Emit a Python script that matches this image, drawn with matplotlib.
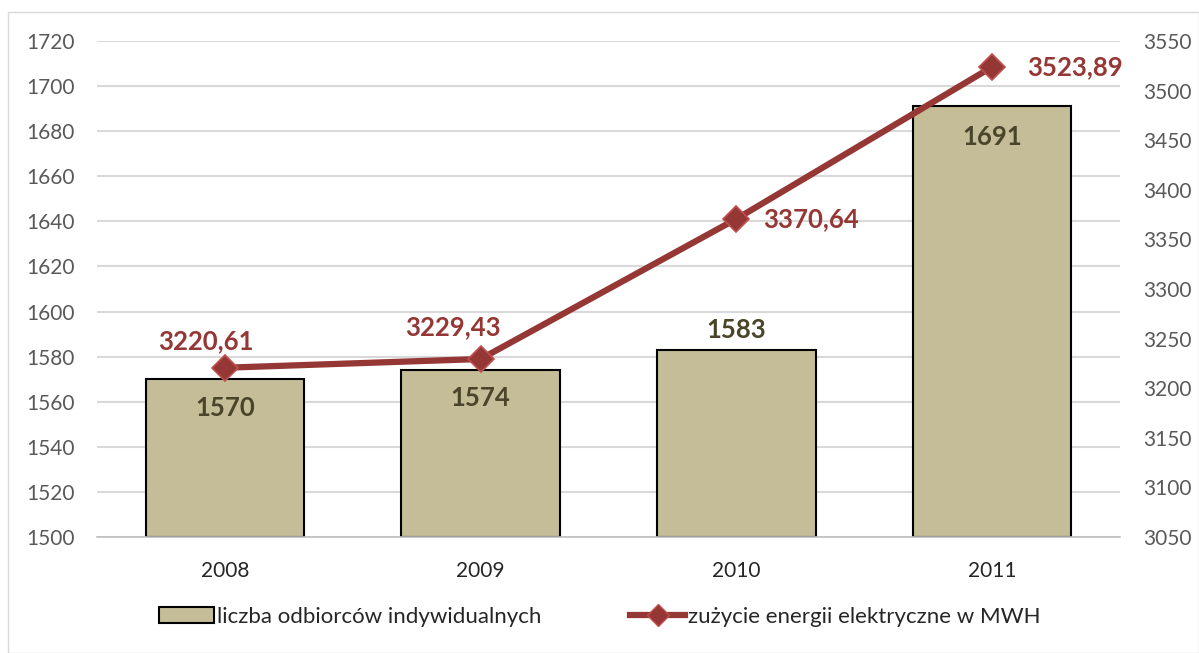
import matplotlib.pyplot as plt
from matplotlib.patches import Rectangle, Patch
from matplotlib.lines import Line2D

plt.rcParams['font.family'] = ['Lato', 'DejaVu Sans']

years = ['2008', '2009', '2010', '2011']
odbiorcy = [1570, 1574, 1583, 1691]
energia = [3220.61, 3229.43, 3370.64, 3523.89]
energia_txt = ['3220,61', '3229,43', '3370,64', '3523,89']

bar_color = '#C4BD97'
line_color = '#953735'
grid_color = '#D9D9D9'
tick_color = '#595959'

fig = plt.figure(figsize=(11.99, 6.53), dpi=100)
fig.patches.append(Rectangle((8 / 1199, 0), 1 - 8 / 1199, 1 - 12 / 653, transform=fig.transFigure,
                             fill=False, edgecolor='#D9D9D9', linewidth=1))

ax = fig.add_axes([97 / 1199, 1 - 537 / 653, (1120 - 97) / 1199, (537 - 41) / 653])
x = list(range(len(years)))
ax.bar(x, [v - 1500 for v in odbiorcy], bottom=1500, width=0.62, color=bar_color,
       edgecolor='black', linewidth=1.5, zorder=2)
ax.set_xlim(-0.5, 3.5)
ax.set_ylim(1500, 1720)
ax.set_yticks(range(1500, 1721, 20))
ax.yaxis.grid(True, color=grid_color, linewidth=1.5, zorder=0)
ax.set_axisbelow(True)
for s in ['top', 'right', 'left']:
    ax.spines[s].set_visible(False)
ax.spines['bottom'].set_color('#BFBFBF')
ax.spines['bottom'].set_linewidth(1.2)
ax.set_xticks(x)
ax.set_xticklabels(years)
ax.tick_params(axis='both', length=0, labelsize=15, labelcolor=tick_color)
ax.tick_params(axis='x', pad=17, labelcolor='#262626')
ax.tick_params(axis='y', pad=16)

# bar labels
bar_offsets = [-21, -20, 14, -22]
for i, v in enumerate(odbiorcy):
    ax.annotate(str(v), (i, v), xytext=(0, bar_offsets[i]), textcoords='offset points',
                ha='center', va='center', fontsize=18.5, fontweight='bold', color='#4A452A', zorder=5)

ax2 = ax.twinx()
ax2.set_ylim(3050, 3550)
ax2.set_yticks(range(3050, 3551, 50))
for s in ax2.spines.values():
    s.set_visible(False)
ax2.tick_params(axis='y', length=0, labelsize=15, labelcolor=tick_color, pad=17)
ax2.plot(x, energia, color=line_color, linewidth=4.5, marker='D', markersize=13,
         markerfacecolor=line_color, markeredgecolor='#C0504D', markeredgewidth=1.2, zorder=4)

line_offsets = [(-14, 19.5), (-20, 23), (54, 0), (60, 0)]
for i, v in enumerate(energia):
    dx, dy = line_offsets[i]
    ax2.annotate(energia_txt[i], (i, v), xytext=(dx, dy), textcoords='offset points',
                 ha='center', va='center', fontsize=18.5, fontweight='bold', color=line_color)

handles = [Patch(facecolor=bar_color, edgecolor='black', linewidth=1.5),
           Line2D([], [], color=line_color, linewidth=4.5, marker='D', markersize=11,
                  markerfacecolor=line_color, markeredgecolor='#C0504D')]
fig.legend(handles, ['liczba odbiorców indywidualnych', 'zużycie energii elektryczne w MWH'],
           loc='center', bbox_to_anchor=(0.5, 1 - 617 / 653), ncol=2, frameon=False,
           fontsize=16, handlelength=2.5, handletextpad=0.1, columnspacing=4.0,
           labelcolor='#262626')

fig.savefig('out.png', dpi=100)
